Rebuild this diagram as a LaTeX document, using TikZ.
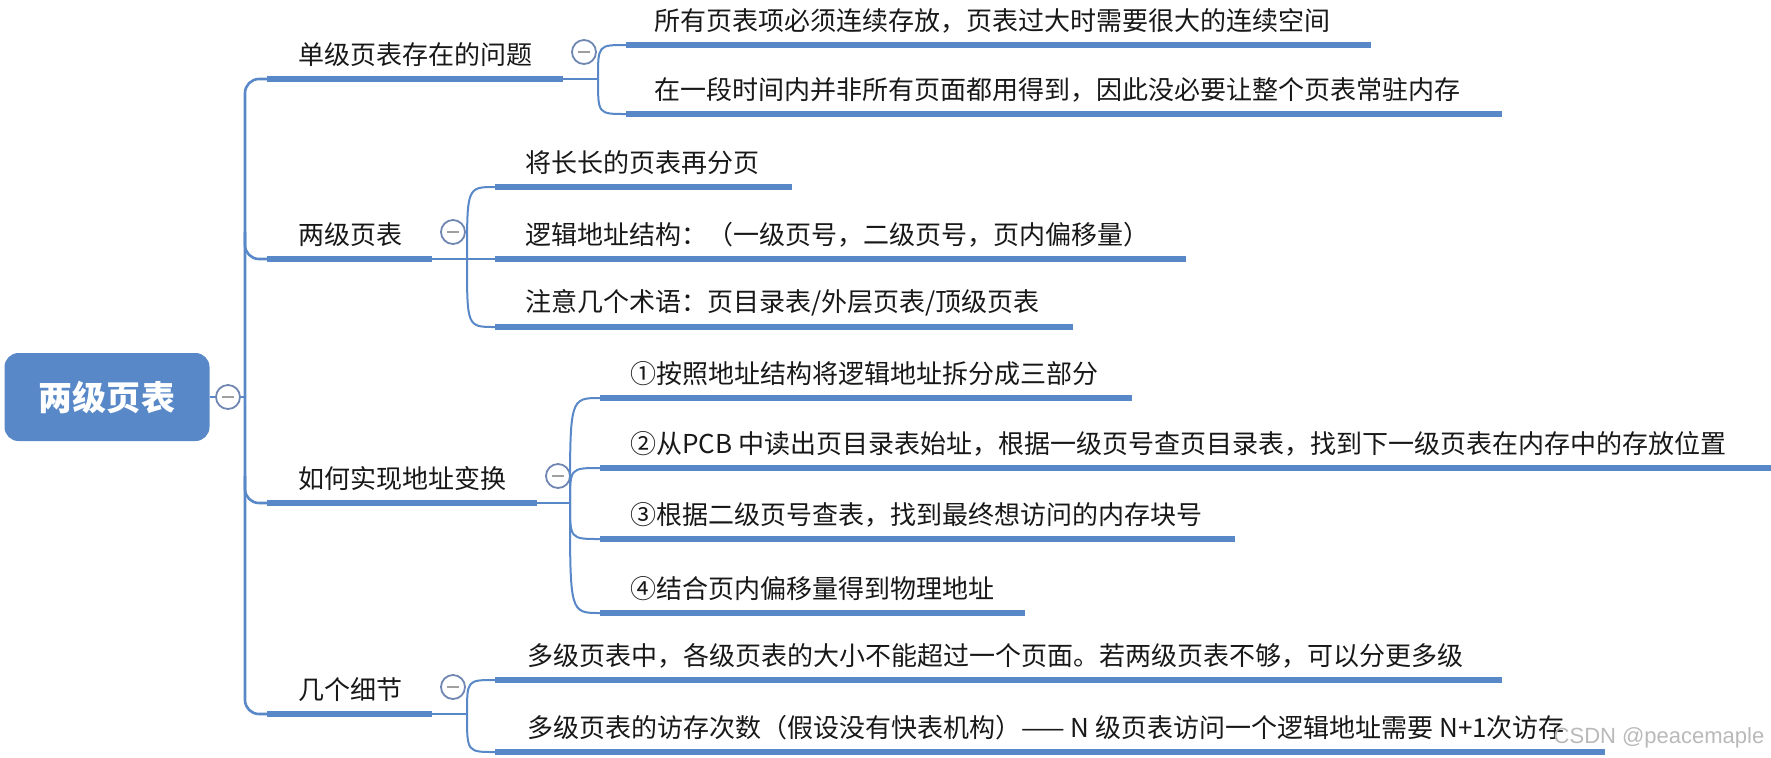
\documentclass[tikz,border=0pt]{standalone}
\usepackage{fontspec}
\setmainfont{Noto Sans CJK SC}
\newfontfamily\marksans{Liberation Sans}
\definecolor{mapblue}{RGB}{88,136,199}
\definecolor{foldline}{RGB}{112,134,178}
\definecolor{ink}{RGB}{24,24,24}

\begin{document}
\begin{tikzpicture}[
    x=0.5pt, y=-0.5pt, % one unit = one pixel of the reference, y downwards
    % the central topic and the text of every branch
    rootbox/.style={rectangle, rounded corners=7pt, fill=mapblue, text=white,
      minimum width=102.5pt, minimum height=44pt, inner sep=0pt,
      font=\fontsize{17pt}{20pt}\selectfont\bfseries},
    topic/.style={anchor=west, inner sep=0pt, text=ink, font=\fontsize{13pt}{15pt}\selectfont},
    % lines of the map
    bar/.style={draw=mapblue, line width=2.6pt},
    twig/.style={draw=mapblue, line width=1pt},
    trunk/.style={draw=mapblue, line width=1.3pt, rounded corners=7pt},
    % the little collapse buttons
    fold/.style={circle, draw=foldline, line width=0.9pt, fill=white,
      minimum size=12pt, inner sep=0pt,
      path picture={\draw[gray!75, line width=1.1pt]
        ([xshift=-3pt]path picture bounding box.center) --
        ([xshift=3pt]path picture bounding box.center);}},
    watermark/.style={text=gray!55, inner sep=0pt, font=\marksans\fontsize{11pt}{13pt}\selectfont}
  ]
  \useasboundingbox (0,0) rectangle (1771,757);

  %%%%%%%%%%%%%%%%%%%%%%%%%%%%%%%%%%%%%%%%%%%%%%%%%%%%%%%%
  % ROOT and trunk
  %%%%%%%%%%%%%%%%%%%%%%%%%%%%%%%%%%%%%%%%%%%%%%%%%%%%%%%%
  \node[rootbox] (root) at (107,397) {两级页表};
  \coordinate (hub) at (245,397);
  \coordinate (j1) at (267,79);
  \coordinate (j2) at (267,259);
  \coordinate (j3) at (267,503);
  \coordinate (j4) at (267,714);

  \draw[trunk] (root.east) -- (hub);
  \draw[trunk] (j1) -| (hub) |- (j4);
  \draw[trunk] (245,232) |- (j2);
  \draw[trunk] (245,476) |- (j3);
  \node[fold] (f0) at (228,397) {};

  %%%%%%%%%%%%%%%%%%%%%%%%%%%%%%%%%%%%%%%%%%%%%%%%%%%%%%%%
  % (1) 单级页表存在的问题
  %%%%%%%%%%%%%%%%%%%%%%%%%%%%%%%%%%%%%%%%%%%%%%%%%%%%%%%%
  \node[topic] (t1) at (298,55) {单级页表存在的问题};
  \coordinate (e1) at (563,79);
  \coordinate (s1) at (598,79);
  \draw[bar] (j1) -- (e1);
  \draw[twig] (e1) -- (s1);
  \node[fold] (f1) at (584,52) {};

  \coordinate (a1) at (626,45);
  \coordinate (b1) at (626,114);
  \draw[twig] (s1) .. controls (598,45) .. (a1);
  \draw[twig] (s1) .. controls (598,114) .. (b1);
  \draw[bar] (a1) -- (1371,45);
  \draw[bar] (b1) -- (1502,114);
  \node[topic] (t1a) at (654,21) {所有页表项必须连续存放，页表过大时需要很大的连续空间};
  \node[topic] (t1b) at (654,90) {在一段时间内并非所有页面都用得到，因此没必要让整个页表常驻内存};

  %%%%%%%%%%%%%%%%%%%%%%%%%%%%%%%%%%%%%%%%%%%%%%%%%%%%%%%%
  % (2) 两级页表
  %%%%%%%%%%%%%%%%%%%%%%%%%%%%%%%%%%%%%%%%%%%%%%%%%%%%%%%%
  \node[topic] (t2) at (298,235) {两级页表};
  \coordinate (e2) at (432,259);
  \coordinate (s2) at (467,259);
  \draw[bar] (j2) -- (e2);
  \draw[twig] (e2) -- (s2);
  \node[fold] (f2) at (453,232) {};

  \coordinate (a2) at (495,187);
  \coordinate (b2) at (495,259);
  \coordinate (c2) at (495,327);
  \draw[twig] (s2) .. controls (467,187) .. (a2);
  \draw[twig] (s2) -- (b2);
  \draw[twig] (s2) .. controls (467,327) .. (c2);
  \draw[bar] (a2) -- (792,187);
  \draw[bar] (b2) -- (1186,259);
  \draw[bar] (c2) -- (1073,327);
  \node[topic] (t2a) at (525,163) {将长长的页表再分页};
  \node[topic] (t2b) at (525,235) {逻辑地址结构：（一级页号，二级页号，页内偏移量）};
  \node[topic] (t2c) at (525,303) {注意几个术语：页目录表/外层页表/顶级页表};

  %%%%%%%%%%%%%%%%%%%%%%%%%%%%%%%%%%%%%%%%%%%%%%%%%%%%%%%%
  % (3) 如何实现地址变换
  %%%%%%%%%%%%%%%%%%%%%%%%%%%%%%%%%%%%%%%%%%%%%%%%%%%%%%%%
  \node[topic] (t3) at (298,479) {如何实现地址变换};
  \coordinate (e3) at (537,503);
  \coordinate (s3) at (570,503);
  \draw[bar] (j3) -- (e3);
  \draw[twig] (e3) -- (s3);
  \node[fold] (f3) at (558,476) {};

  \coordinate (a3) at (600,398);
  \coordinate (b3) at (600,468);
  \coordinate (c3) at (600,539);
  \coordinate (d3) at (600,613);
  \draw[twig] (s3) .. controls (570,398) .. (a3);
  \draw[twig] (s3) .. controls (570,468) .. (b3);
  \draw[twig] (s3) .. controls (570,539) .. (c3);
  \draw[twig] (s3) .. controls (570,613) .. (d3);
  \draw[bar] (a3) -- (1132,398);
  \draw[bar] (b3) -- (1771,468);
  \draw[bar] (c3) -- (1235,539);
  \draw[bar] (d3) -- (1025,613);
  \node[topic] (t3a) at (630,374) {①按照地址结构将逻辑地址拆分成三部分};
  \node[topic] (t3b) at (630,444) {②从PCB 中读出页目录表始址，根据一级页号查页目录表，找到下一级页表在内存中的存放位置};
  \node[topic] (t3c) at (630,515) {③根据二级页号查表，找到最终想访问的内存块号};
  \node[topic] (t3d) at (630,589) {④结合页内偏移量得到物理地址};

  %%%%%%%%%%%%%%%%%%%%%%%%%%%%%%%%%%%%%%%%%%%%%%%%%%%%%%%%
  % (4) 几个细节
  %%%%%%%%%%%%%%%%%%%%%%%%%%%%%%%%%%%%%%%%%%%%%%%%%%%%%%%%
  \node[topic] (t4) at (298,690) {几个细节};
  \coordinate (e4) at (432,714);
  \coordinate (s4) at (467,714);
  \draw[bar] (j4) -- (e4);
  \draw[twig] (e4) -- (s4);
  \node[fold] (f4) at (453,687) {};

  \coordinate (a4) at (495,680);
  \coordinate (b4) at (495,752);
  \draw[twig] (s4) .. controls (467,680) .. (a4);
  \draw[twig] (s4) .. controls (467,752) .. (b4);
  \draw[bar] (a4) -- (1502,680);
  \draw[bar] (b4) -- (1605,752);
  \node[topic] (t4a) at (527,656) {多级页表中，各级页表的大小不能超过一个页面。若两级页表不够，可以分更多级};
  \node[topic] (t4b) at (527,728) {多级页表的访存次数（假设没有快表机构）—— N 级页表访问一个逻辑地址需要 N+1次访存};

  % watermark of the screenshot
  \node[watermark] (wm) at (1659,738) {CSDN @peacemaple};

\end{tikzpicture}
\end{document}
